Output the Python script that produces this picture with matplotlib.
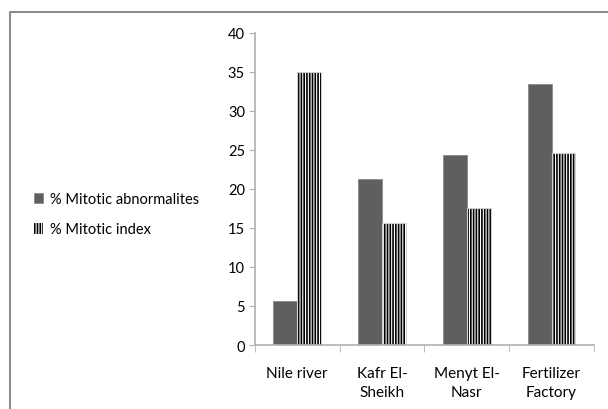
import matplotlib
matplotlib.use("Agg")
import numpy as np
import matplotlib.pyplot as plt
from matplotlib.lines import Line2D

plt.rcParams['font.family'] = ['Lato', 'DejaVu Sans']
plt.rcParams['hatch.linewidth'] = 1.2

# Dados
sites = ["Nile river", "Kafr El-\nSheikh", "Menyt El-\nNasr", "Fertilizer\nFactory"]
abnormalities = [5.6, 21.3, 24.3, 33.4]
mitotic_index = [35.0, 15.6, 17.6, 24.6]
yticks = [0, 5, 10, 15, 20, 25, 30, 35, 40]

fig = plt.figure(figsize=(6.08, 4.10), dpi=100)
ax = fig.add_axes([0.419, 0.156, 0.558, 0.762])

x = np.arange(len(sites))
w = 0.28
ax.bar(x - w / 2, abnormalities, w, color='#5f5f5f', edgecolor='#8a8a8a',
       linewidth=0.6, label='% Mitotic abnormalites')
ax.bar(x + w / 2, mitotic_index, w, color='white', edgecolor='black',
       hatch='||||||', linewidth=0, label='% Mitotic index')
# contorno claro das barras hachuradas
ax.bar(x + w / 2, mitotic_index, w, fill=False, edgecolor='#cfcfcf', linewidth=0.8)

ax.set_xlim(-0.5, len(sites) - 0.5)
ax.set_ylim(0, 40)
ax.set_yticks(yticks)
ax.set_xticks(x)
ax.set_xticklabels(sites, fontsize=11, linespacing=1.45)
ax.set_xticks(np.arange(len(sites) + 1) - 0.5, minor=True)
ax.tick_params(axis='x', which='major', length=0, pad=15)
ax.tick_params(axis='x', which='minor', length=5, color='#b0b0b0')
ax.tick_params(axis='y', length=4, color='#b0b0b0', labelsize=10.5, pad=3)

for s in ['top', 'right']:
    ax.spines[s].set_visible(False)
for s in ['left', 'bottom']:
    ax.spines[s].set_color('#b0b0b0')
    ax.spines[s].set_linewidth(1.2)

h, l = ax.get_legend_handles_labels()
fig.legend(h, l, loc='center left', bbox_to_anchor=(0.035, 0.475), frameon=False,
           fontsize=10.5, handlelength=0.6, handleheight=0.75, handletextpad=0.45,
           labelspacing=1.1)

# moldura do gráfico
border = Line2D([10 / 608, 10 / 608, 1.0], [0.0, 1 - 13 / 410, 1 - 13 / 410],
                transform=fig.transFigure, color='#8c8c8c', linewidth=1.5)
fig.add_artist(border)

fig.savefig('out.png', dpi=100)
